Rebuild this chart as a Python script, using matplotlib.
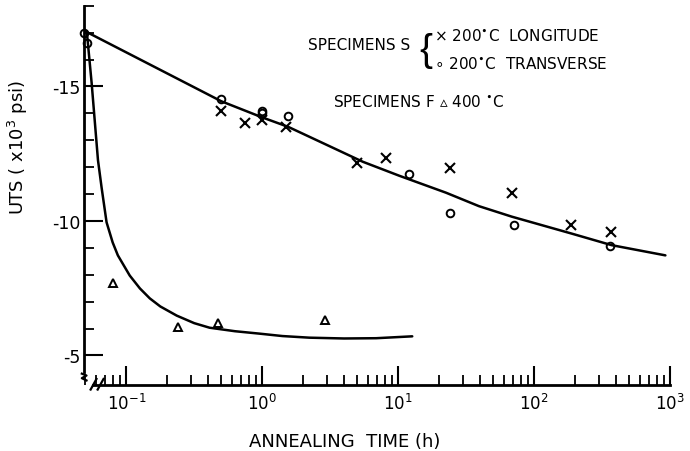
import matplotlib
matplotlib.use("Agg")
import matplotlib.pyplot as plt
from matplotlib.lines import Line2D

# ---- data ----
circ_t = [0.049, 0.051, 0.50, 1.0, 1.0, 1.55, 12, 24, 71, 365]
circ_v = [17.0, 16.6, 14.55, 14.1, 14.0, 13.9, 11.75, 10.3, 9.85, 9.05]

cross_t = [0.5, 0.75, 1.0, 1.5, 5.0, 8.1, 24, 69, 187, 370]
cross_v = [14.1, 13.65, 13.75, 13.5, 12.15, 12.35, 11.95, 11.05, 9.85, 9.6]

tri_t = [0.08, 0.24, 0.47, 2.9]
tri_v = [7.7, 6.05, 6.2, 6.3]

# fitted curve, specimens S
curveS_t = [0.05, 0.5, 1.0, 1.55, 5.5, 10.2, 22.5, 39.3, 68.5, 189, 372, 925]
curveS_v = [17.05, 14.45, 13.85, 13.5, 12.2, 11.68, 11.05, 10.55, 10.16, 9.53, 9.1, 8.72]

# fitted curve, specimens F
curveF_t = [0.0512, 0.0556, 0.0619, 0.0659, 0.0716, 0.0794, 0.0867, 0.106, 0.126,
            0.149, 0.178, 0.235, 0.316, 0.41, 0.63, 0.955, 1.41, 2.22, 4.0, 6.89, 12.7]
curveF_v = [17.05, 15.13, 12.26, 11.22, 9.95, 9.2, 8.72, 7.97, 7.49,
            7.12, 6.82, 6.48, 6.2, 6.03, 5.9, 5.81, 5.72, 5.66, 5.63, 5.64, 5.71]

xticks = [0.1, 1, 10, 100, 1000]
xticklabels = [r"$10^{-1}$", r"$10^{0}$", r"$10^{1}$", r"$10^{2}$", r"$10^{3}$"]
yticks = [5, 10, 15]
yticklabels = ["-5", "-10", "-15"]

plt.rcParams['font.family'] = ['DejaVu Sans']
plt.rcParams['mathtext.fontset'] = 'dejavusans'

fig = plt.figure(figsize=(6.9, 4.52), dpi=100)
ax = fig.add_axes([0.122, 0.146, 0.849, 0.839])

k = 'black'
ax.plot(curveS_t, curveS_v, color=k, lw=1.8, solid_capstyle='round', solid_joinstyle='round')
ax.plot(curveF_t, curveF_v, color=k, lw=1.8, solid_capstyle='round', solid_joinstyle='round')
ax.plot(cross_t, cross_v, 'x', color=k, ms=6.5, mew=1.5, linestyle='none', clip_on=False)
ax.plot(circ_t, circ_v, 'o', mfc='none', mec=k, ms=5.5, mew=1.4, linestyle='none', clip_on=False)
ax.plot(tri_t, tri_v, '^', mfc='none', mec=k, ms=5.5, mew=1.4, linestyle='none', clip_on=False)

ax.set_xscale('log')
ax.set_xlim(0.049, 1000)
ax.set_ylim(3.9, 18)

for s in ['top', 'right']:
    ax.spines[s].set_visible(False)
ax.spines['left'].set_linewidth(2)
ax.spines['bottom'].set_linewidth(2)
ax.spines['left'].set_bounds(4.4, 18)
ax.spines['bottom'].set_bounds(0.057, 1000)

ax.set_xticks(xticks)
ax.set_xticklabels(xticklabels, fontsize=12)
ax.set_yticks(yticks)
ax.set_yticklabels(yticklabels, fontsize=12.5)
ax.set_yticks([v for v in range(6, 19) if v not in yticks], minor=True)
ax.tick_params(axis='both', which='major', direction='in', length=14, width=1.5, pad=4)
ax.tick_params(axis='both', which='minor', direction='in', length=7, width=1.3)
ax.tick_params(axis='y', which='major', pad=3)
ax.tick_params(axis='x', which='major', pad=6)

# axis break marks
for dx in [0.0, 0.012]:
    ax.add_line(Line2D([0.011 + dx, 0.021 + dx], [-0.012, 0.016], transform=ax.transAxes,
                       color=k, lw=1.6, clip_on=False))
ax.add_line(Line2D([-0.004, 0.004, -0.004, 0.004], [0.03, 0.025, 0.018, 0.012],
                   transform=ax.transAxes, color=k, lw=1.6, clip_on=False))

ax.set_xlabel("ANNEALING  TIME (h)", fontsize=13, labelpad=12)
ax.xaxis.set_label_coords(0.445, -0.125)
ax.set_ylabel(r"UTS ( x10$^3$ psi)", fontsize=13)
ax.yaxis.set_label_coords(-0.092, 0.63)

# legend texts
fs = 11
fig.text(308 / 690, 1 - 45 / 452, "SPECIMENS S", fontsize=fs, va='center', ha='left')
fig.text(419 / 690, 1 - 51 / 452, "{", fontsize=28, va='center', ha='left',
         family='Liberation Sans')
fig.text(434 / 690, 1 - 36 / 452, "× 200$^{\\bullet}$C  LONGITUDE", fontsize=fs, va='center', ha='left')
fig.text(434 / 690, 1 - 64 / 452, "∘ 200$^{\\bullet}$C  TRANSVERSE", fontsize=fs, va='center', ha='left')
fig.text(333 / 690, 1 - 102 / 452, "SPECIMENS F ▵ 400 $^{\\bullet}$C", fontsize=fs, va='center', ha='left')

fig.savefig("out.png", dpi=100)
